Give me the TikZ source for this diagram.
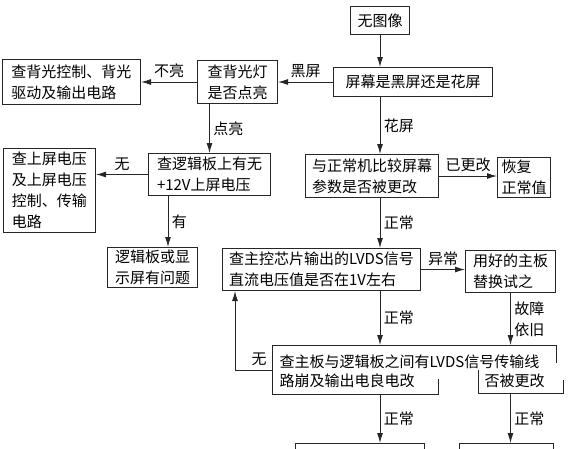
\documentclass[tikz,border=0pt]{standalone}
\usepackage{fontspec}
\setmainfont{Noto Sans CJK SC}
\usetikzlibrary{arrows.meta}

\begin{document}
\begin{tikzpicture}[x=1pt,y=-1pt,line width=1pt,draw=black!85,
	font=\fontsize{15}{21}\selectfont,
	box/.style={draw,anchor=north west,align=left,inner sep=0pt},
	arr/.style={-{Latex[length=10pt,width=6pt]}}]
		\useasboundingbox (0,0) rectangle (576,448);
		\clip (0,0) rectangle (576,448);
		\node[box,minimum width=59,minimum height=28] (nopic) at (350,6) {无图像};
		\node[box,minimum width=159,minimum height=29] (screen) at (333,67) {屏幕是黑屏还是花屏};
		\node[box,minimum width=80,minimum height=43] (backlight) at (197,60) {查背光灯\\是否点亮};
		\node[box,minimum width=138,minimum height=45] (blcheck) at (2,59) {查背光控制、背光\\驱动及输出电路};
		\node[box,minimum width=122,minimum height=42] (logic) at (148,153) {查逻辑板上有无\\+12V上屏电压};
		\node[box,minimum width=92,minimum height=84] (volt) at (3,148) {查上屏电压\\及上屏电压\\控制、传输\\电路};
		\node[box,minimum width=90,minimum height=40] (panel) at (107,247) {逻辑板或显\\示屏有问题};
		\node[box,minimum width=133,minimum height=43] (param) at (305,154) {与正常机比较屏幕\\参数是否被更改};
		\node[box,minimum width=53,minimum height=40] (restore) at (497,157) {恢复\\正常值};
		\node[box,minimum width=198,minimum height=42] (lvds) at (222,248) {查主控芯片输出的LVDS信号\\直流电压值是否在1V左右};
		\node[box,minimum width=90,minimum height=42] (swap) at (465,250) {用好的主板\\替换试之};
		\node[anchor=north west,minimum width=283,minimum height=48,inner sep=0pt] (trace) at (272,345) {};
		\node[anchor=west,inner sep=0pt] (traceA) at (279,362) {查主板与逻辑板之间有LVDS信号传输线};
		\node[anchor=west,inner sep=0pt] (traceB) at (279,381) {路崩及输出电良电改};
		\node[anchor=west,inner sep=0pt] (traceC) at (484,381) {否被更改};
		\draw (trace.south west) -- (trace.north west) -- (trace.north east) -- ++(0,18);
		\draw (trace.south west) -- ++(166,0) -- ++(0,-15);
		\draw (478,370) -- (478,393) -- (563,393) -- (563,380);
		\node[box,minimum width=129,minimum height=30] (bleft) at (295,443) {};
		\node[box,minimum width=94,minimum height=30] (bright) at (459,443) {};
		\coordinate (back) at (235,370);
		\draw[arr] (nopic.south) -- (nopic.south |- screen.north);
		\draw[arr] (screen.west) -- (backlight.east) node[midway,above] {黑屏};
		\draw[arr] (backlight.west) -- (blcheck.east) node[midway,above] {不亮};
		\draw[arr] (backlight.south -| logic.north) -- (logic.north) node[midway,right] {点亮};
		\draw[arr] (nopic.south |- screen.south) -- (nopic.south |- param.north) node[midway,right] {花屏};
		\draw[arr] (logic.west) -- (logic.west -| volt.east) node[midway,above] {无};
		\draw[arr] ([xshift=20pt]logic.south west) -- ([xshift=20pt]logic.south west |- panel.north) node[midway,right] {有};
		\draw[arr] (param.east) -- (param.east -| restore.west) node[midway,above] {已更改};
		\draw[arr] (nopic.south |- param.south) -- (nopic.south |- lvds.north) node[midway,right] {正常};
		\draw[arr] (lvds.east) -- (lvds.east -| swap.west) node[midway,above] {异常};
		\draw[arr] (swap.south) -- (swap.south |- trace.north) node[midway,right,align=left] {故障\\依旧};
		\draw[arr] (nopic.south |- lvds.south) -- (nopic.south |- trace.north) node[midway,right] {正常};
		\draw[arr] (trace.west |- back) -- (back) node[pos=0.35,above] {无} -- (back |- lvds.south);
		\draw[arr] (nopic.south |- trace.south) -- (nopic.south |- bleft.north) node[midway,right] {正常};
		\draw[arr] (swap.south |- trace.south) -- (swap.south |- bright.north) node[midway,right] {正常};
	\end{tikzpicture}
\end{document}
